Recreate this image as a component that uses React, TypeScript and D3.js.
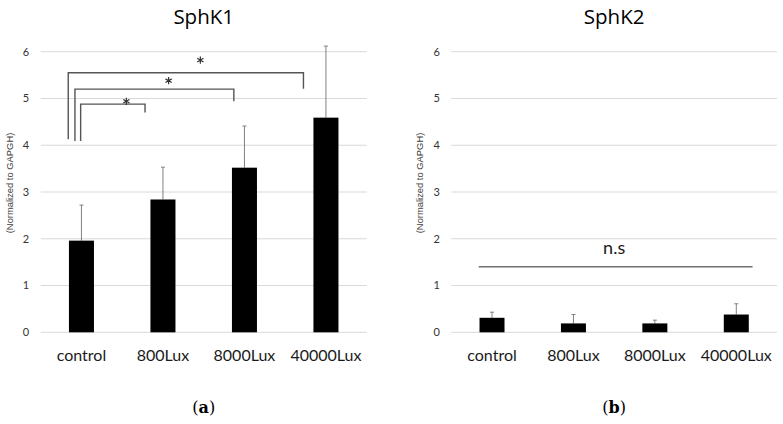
import React from "react";
import * as d3 from "d3";

const categories = ["control", "800Lux", "8000Lux", "40000Lux"];
const sphk1Values = [1.96, 2.84, 3.52, 4.59];
const sphk1Errors = [0.76, 0.69, 0.89, 1.53];
const sphk2Values = [0.31, 0.19, 0.19, 0.38];
const sphk2Errors = [0.12, 0.19, 0.07, 0.23];
const yTicks = [0, 1, 2, 3, 4, 5, 6];
const titles = ["SphK1", "SphK2"];
const panelLetters = ["a", "b"];
const yAxisLabel = "(Normalized to GAPGH)";

// significance brackets for SphK1: compare control vs target, levels in data units
const brackets = [
  { to: "40000Lux", top: 5.55, leftEnd: 4.13, rightEnd: 5.21, star: 5.82 },
  { to: "8000Lux", top: 5.2, leftEnd: 4.09, rightEnd: 4.94, star: 5.38 },
  { to: "800Lux", top: 4.88, leftEnd: 4.09, rightEnd: 4.7, star: 4.94 },
];
const bracketOffsets = [
  { left: -13.2, right: -22.5, star: 14.5 },
  { left: -6.5, right: -10.6, star: 14.2 },
  { left: -0.8, right: -17.9, star: 13.5 },
];
const nsLevel = 1.4;
const nsTextLevel = 1.67;

const Y0 = 332.3;
const Y6 = 51.7;

function Panel({ x0, x1, values, errors, title, letter, labelX, tickX, children }: any) {
  const x = d3.scaleBand<string>().domain(categories).range([x0, x1]).paddingInner(0.693).paddingOuter(0.3465);
  const y = d3.scaleLinear().domain([0, 6]).range([Y0, Y6]);
  const cx = (c: string) => (x(c) as number) + x.bandwidth() / 2;
  const mid = (x0 + x1) / 2;
  return (
    <g>
      {yTicks.map((t) => (
        <line key={"g" + t} x1={x0} x2={x1} y1={y(t)} y2={y(t)} stroke="#d9d9d9" strokeWidth={1} />
      ))}
      {yTicks.map((t) => (
        <text key={"t" + t} x={tickX} y={y(t) + 3.8} textAnchor="middle" fontFamily="Lato, sans-serif" fontSize={11} fill="#333">
          {t}
        </text>
      ))}
      <text
        transform={`translate(${labelX},183) rotate(-90)`}
        textAnchor="middle"
        fontFamily="'Liberation Sans', Arial, sans-serif"
        fontSize={9.4}
        fill="#404040"
      >
        {yAxisLabel}
      </text>
      {categories.map((c, i) => (
        <g key={c}>
          <line x1={cx(c)} x2={cx(c)} y1={y(values[i])} y2={y(values[i] + errors[i])} stroke="#808080" strokeWidth={1} />
          <line x1={cx(c) - 2} x2={cx(c) + 2} y1={y(values[i] + errors[i])} y2={y(values[i] + errors[i])} stroke="#808080" strokeWidth={1} />
          <rect x={x(c)} y={y(values[i])} width={x.bandwidth()} height={y(0) - y(values[i])} fill="#000" />
          <text x={cx(c)} y={361} textAnchor="middle" fontFamily="Lato, sans-serif" fontSize={16} fill="#1a1a1a">
            {c}
          </text>
        </g>
      ))}
      <text x={mid} y={23.5} textAnchor="middle" fontFamily="'Open Sans', sans-serif" fontSize={20.5} fill="#000">
        {title}
      </text>
      <text x={mid} y={413} textAnchor="middle" fontFamily="'DejaVu Serif', 'Liberation Serif', serif" fontSize={16} fill="#000">
        (<tspan fontWeight="bold">{letter}</tspan>)
      </text>
      {children && children(x, y, cx)}
    </g>
  );
}

export default function App() {
  const ast = d3.symbol().type(d3.symbolAsterisk).size(36)() as string;
  return (
    <svg width={783} height={424} style={{ position: "absolute", left: 0, top: 0, background: "#fff" }}>
      <rect width={783} height={424} fill="#fff" />
      <Panel
        x0={40.7}
        x1={366.7}
        values={sphk1Values}
        errors={sphk1Errors}
        title={titles[0]}
        letter={panelLetters[0]}
        labelX={13}
        tickX={26}
      >
        {(x: any, y: any, cx: any) =>
          brackets.map((b, i) => {
            const o = bracketOffsets[i];
            const lx = cx("control") + o.left;
            const rx = cx(b.to) + o.right;
            const sx = (lx + rx) / 2 + o.star;
            return (
              <g key={b.to}>
                <path
                  d={`M${lx},${y(b.leftEnd)}V${y(b.top)}H${rx}V${y(b.rightEnd)}`}
                  fill="none"
                  stroke="#555"
                  strokeWidth={1.4}
                />
                <path d={ast} transform={`translate(${sx},${y(b.star)})`} stroke="#333" strokeWidth={1.2} fill="none" />
              </g>
            );
          })
        }
      </Panel>
      <Panel
        x0={451.3}
        x1={777}
        values={sphk2Values}
        errors={sphk2Errors}
        title={titles[1]}
        letter={panelLetters[1]}
        labelX={423}
        tickX={436.7}
      >
        {(x: any, y: any, cx: any) => (
          <g>
            <line
              x1={cx("control") - 13.3}
              x2={cx("40000Lux") + 16.3}
              y1={y(nsLevel)}
              y2={y(nsLevel)}
              stroke="#707070"
              strokeWidth={1.5}
            />
            <text x={(cx("control") + cx("40000Lux")) / 2} y={y(nsTextLevel)} textAnchor="middle" fontFamily="Lato, sans-serif" fontSize={18} fill="#1a1a1a">
              n.s
            </text>
          </g>
        )}
      </Panel>
    </svg>
  );
}
